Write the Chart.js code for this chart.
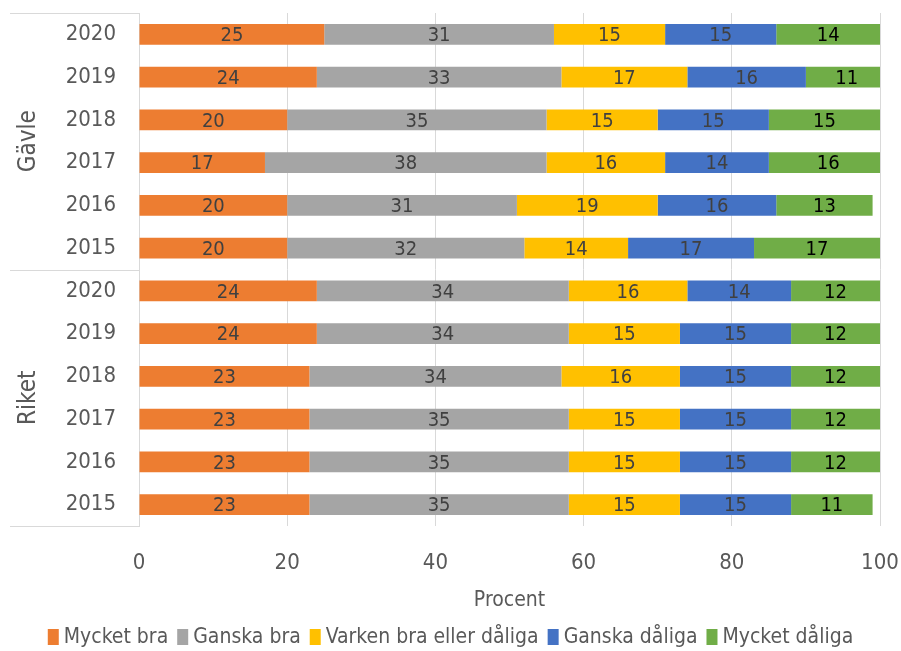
<!DOCTYPE html>
<html lang="sv">
<head>
<meta charset="utf-8">
<title>Procent per år</title>
<script src="https://cdn.jsdelivr.net/npm/chart.js@4.4.1/dist/chart.umd.min.js"></script>
<style>
    html, body { margin: 0; padding: 0; background: #fff; }
    #wrap { width: 901px; height: 651px; }
</style>
</head>
<body>
<div id="wrap"><canvas id="grafProcent"></canvas></div>
<script>
// År per rad, Gävle först och sedan Riket
const ar = ['2020', '2019', '2018', '2017', '2016', '2015',
            '2020', '2019', '2018', '2017', '2016', '2015'];
const grupper = ['Gävle', 'Riket'];

// Andelar i procent per svarsalternativ
const mycketBra    = [25, 24, 20, 17, 20, 20, 24, 24, 23, 23, 23, 23];
const ganskaBra    = [31, 33, 35, 38, 31, 32, 34, 34, 34, 35, 35, 35];
const varken       = [15, 17, 15, 16, 19, 14, 16, 15, 16, 15, 15, 15];
const ganskaDaliga = [15, 16, 15, 14, 16, 17, 14, 15, 15, 15, 15, 15];
const mycketDaliga = [14, 11, 15, 16, 13, 17, 12, 12, 12, 12, 12, 11];

const xTicks = [0, 20, 40, 60, 80, 100];

const FONT = "'DejaVu Sans Condensed', 'Liberation Sans Narrow', 'Open Sans', sans-serif";
const TEXTFARG = '#595959';
const LINJEFARG = '#d9d9d9';

// Skriver värdet mitt i varje stapelsegment
const etikettPlugin = {
    id: 'etiketter',
    afterDatasetsDraw(chart) {
        const ctx = chart.ctx;
        ctx.save();
        ctx.font = '20px ' + FONT;
        ctx.textAlign = 'center';
        ctx.textBaseline = 'middle';
        chart.data.datasets.forEach((ds, i) => {
            const meta = chart.getDatasetMeta(i);
            ctx.fillStyle = ds.etikettFarg;
            meta.data.forEach((bar, j) => {
                ctx.fillText(ds.data[j], (bar.x + bar.base) / 2, bar.y + 1.5);
            });
        });
        ctx.restore();
    }
};

// Gruppnamn (Gävle / Riket) och avgränsande linjer till vänster om y-axeln
const gruppPlugin = {
    id: 'grupper',
    afterDraw(chart) {
        const { ctx, chartArea, scales } = chart;
        const y = scales.y;
        const mitt = (y.getPixelForValue(5) + y.getPixelForValue(6)) / 2;
        const kanter = [chartArea.top, mitt, chartArea.bottom];
        ctx.save();
        ctx.strokeStyle = LINJEFARG;
        ctx.lineWidth = 1;
        kanter.forEach(py => {
            const yy = Math.round(py) + 0.5;
            ctx.beginPath();
            ctx.moveTo(10, yy);
            ctx.lineTo(chartArea.left, yy);
            ctx.stroke();
        });
        ctx.fillStyle = TEXTFARG;
        ctx.font = '24px ' + FONT;
        ctx.textAlign = 'center';
        ctx.textBaseline = 'middle';
        grupper.forEach((namn, i) => {
            const mittY = (kanter[i] + kanter[i + 1]) / 2;
            ctx.save();
            ctx.translate(29, mittY);
            ctx.rotate(-Math.PI / 2);
            ctx.fillText(namn, 0, 0);
            ctx.restore();
        });
        ctx.restore();
    }
};

// Egen förklaring längst ner: liten färgruta + text per serie
const forklaringPlugin = {
    id: 'forklaring',
    afterDraw(chart) {
        const ctx = chart.ctx;
        const ds = chart.data.datasets;
        const ruta = { w: 11, h: 16 };
        const glapp = 5, mellan = 9;
        ctx.save();
        ctx.font = '21px ' + FONT;
        ctx.textBaseline = 'middle';
        const bredder = ds.map(d => ruta.w + glapp + ctx.measureText(d.label).width);
        const total = bredder.reduce((a, b) => a + b, 0) + mellan * (ds.length - 1);
        let x = (chart.width - total) / 2;
        const yMitt = 637;
        ds.forEach((d, i) => {
            ctx.fillStyle = d.backgroundColor;
            ctx.fillRect(x, yMitt - ruta.h / 2, ruta.w, ruta.h);
            ctx.fillStyle = TEXTFARG;
            ctx.fillText(d.label, x + ruta.w + glapp, yMitt + 1);
            x += bredder[i] + mellan;
        });
        ctx.restore();
    }
};

function serie(namn, data, farg, etikettFarg) {
    return {
        label: namn,
        data: data,
        backgroundColor: farg,
        borderWidth: 0,
        etikettFarg: etikettFarg,
        categoryPercentage: 0.5,
        barPercentage: 0.98
    };
}

new Chart(document.getElementById('grafProcent').getContext('2d'), {
    type: 'bar',
    data: {
        labels: ar,
        datasets: [
            serie('Mycket bra', mycketBra, '#ED7D31', '#404040'),
            serie('Ganska bra', ganskaBra, '#A5A5A5', '#404040'),
            serie('Varken bra eller dåliga', varken, '#FFC000', '#404040'),
            serie('Ganska dåliga', ganskaDaliga, '#4472C4', '#404040'),
            serie('Mycket dåliga', mycketDaliga, '#70AD47', '#000000')
        ]
    },
    options: {
        indexAxis: 'y',
        responsive: true,
        maintainAspectRatio: false,
        animation: false,
        layout: {
            padding: { top: 13, right: 21, left: 0, bottom: 0 }
        },
        scales: {
            x: {
                stacked: true,
                min: 0,
                max: 100,
                afterBuildTicks: scale => {
                    scale.ticks = xTicks.map(v => ({ value: v }));
                },
                afterFit: scale => {
                    scale.height = 125;
                    scale.paddingLeft = 0;
                    scale.paddingRight = 0;
                },
                grid: { color: LINJEFARG, drawTicks: false },
                border: { display: false },
                ticks: {
                    color: TEXTFARG,
                    padding: 24,
                    font: { family: FONT, size: 22 }
                },
                title: {
                    display: true,
                    text: 'Procent',
                    color: TEXTFARG,
                    padding: { top: 12, bottom: 38 },
                    font: { family: FONT, size: 21 }
                }
            },
            y: {
                stacked: true,
                afterFit: scale => {
                    scale.width = 139;
                    scale.paddingTop = 0;
                    scale.paddingBottom = 0;
                },
                grid: { display: false, drawTicks: false },
                border: { display: true, color: LINJEFARG },
                ticks: {
                    color: TEXTFARG,
                    padding: 23,
                    font: { family: FONT, size: 22 }
                }
            }
        },
        plugins: {
            legend: { display: false },
            tooltip: { enabled: false }
        }
    },
    plugins: [etikettPlugin, gruppPlugin, forklaringPlugin]
});
</script>
</body>
</html>
